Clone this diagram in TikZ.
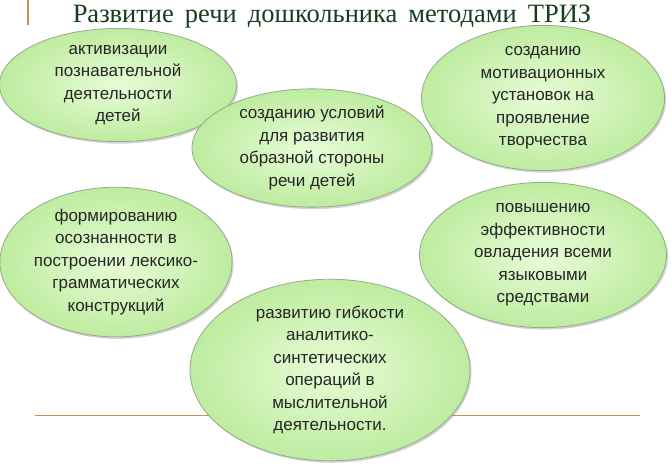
\documentclass[tikz,border=0pt]{standalone}
\usepackage{fontspec}
\setmainfont{Liberation Sans}
\newfontfamily\titlefont{Liberation Serif}
\usetikzlibrary{shapes.geometric,shadows}
\definecolor{gin}{RGB}{232,252,215}
\definecolor{gout}{RGB}{190,236,160}
\definecolor{gedge}{RGB}{150,170,140}
\definecolor{ttl}{RGB}{20,60,30}
\definecolor{rule}{RGB}{200,150,70}
\tikzset{
 bub/.style={ellipse,draw=gedge,line width=0.8pt,inner color=gin,outer color=gout,
   drop shadow={opacity=0.35,shadow xshift=1.5pt,shadow yshift=-2pt},
   align=center,font=\fontsize{17}{22.5}\selectfont,text=black!85,inner sep=0pt},
}
\begin{document}
\begin{tikzpicture}[x=1pt,y=-1pt]
\useasboundingbox (0,0) rectangle (671,468);
\draw[rule,line width=1.2pt] (28,0) -- (28,25);
\draw[rule,line width=0.8pt] (35,415) -- (640,415);
\node[text=ttl,font=\titlefont\fontsize{26.5}{30}\selectfont] (t) at (332,17) {Развитие\, речи\, дошкольника\, методами\, ТРИЗ};
\node[bub,minimum width=237,minimum height=100] (a) at (118,85) {активизации\\познавательной\\деятельности\\детей};
\node[bub,minimum width=243,minimum height=142] (c) at (543,98) {созданию\\мотивационных\\установок на\\проявление\\творчества};
\node[bub,minimum width=240,minimum height=105] (b) at (312,148) {созданию условий\\для развития\\образной стороны\\речи детей};
\node[bub,minimum width=232,minimum height=120] (d) at (116,262) {формированию\\осознанности в\\построении лексико-\\грамматических\\конструкций};
\node[bub,minimum width=247,minimum height=120] (e) at (543,255) {повышению\\эффективности\\овладения всеми\\языковыми\\средствами};
\node[bub,minimum width=280,minimum height=155] (f) at (330,370) {развитию гибкости\\аналитико-\\синтетических\\операций в\\мыслительной\\деятельности.};
\end{tikzpicture}
\end{document}
